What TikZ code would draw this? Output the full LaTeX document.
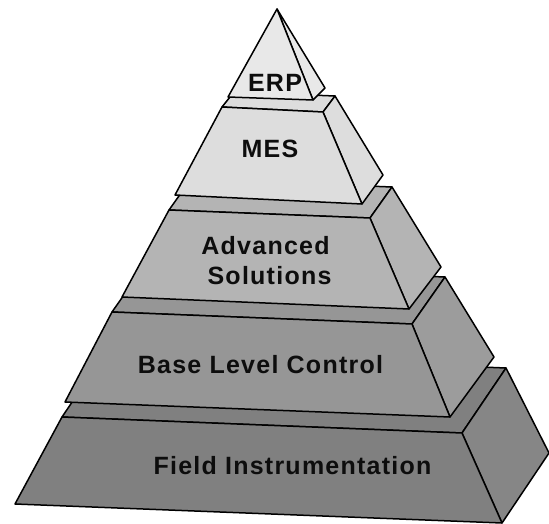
\documentclass[tikz,border=0pt]{standalone}
\usepackage{fontspec}
\setmainfont{Liberation Sans}
\newfontfamily\labfont[LetterSpace=5]{Liberation Sans Bold}
\begin{document}
\begin{tikzpicture}[x=1pt,y=-1pt,
  face/.style={draw=black,line width=1.5pt,line join=round},
  lab/.style={font=\labfont\fontsize{25}{27}\selectfont,anchor=base,inner sep=0pt,text=black!95}]
\useasboundingbox (0,0) rectangle (549,524);
\definecolor{cerp}{gray}{0.91}
\definecolor{cmes}{gray}{0.865}
\definecolor{cadv}{gray}{0.705}
\definecolor{cbase}{gray}{0.59}
\definecolor{cfield}{gray}{0.50}
% Field Instrumentation
\filldraw[face,fill=cfield] (62,417) -- (462,433) -- (506,368) -- (106,352) -- cycle;
\filldraw[face,fill=cfield!95!white] (462,433) -- (506,368) -- (549,453) -- (502,523) -- cycle;
\filldraw[face,fill=cfield] (62,417) -- (462,433) -- (502,523) -- (15,504) -- cycle;
% Base Level Control
\filldraw[face,fill=cbase] (112,312) -- (412,324) -- (445,277) -- (145,265) -- cycle;
\filldraw[face,fill=cbase!95!white] (412,324) -- (445,277) -- (494,357) -- (450,417) -- cycle;
\filldraw[face,fill=cbase] (112,312) -- (412,324) -- (450,417) -- (65,402) -- cycle;
% Advanced Solutions
\filldraw[face,fill=cadv] (169,210) -- (370,218) -- (392,187) -- (191,179) -- cycle;
\filldraw[face,fill=cadv] (370,218) -- (392,187) -- (441,267) -- (409,309) -- cycle;
\filldraw[face,fill=cadv] (169,210) -- (370,218) -- (409,309) -- (122,297) -- cycle;
% MES
\filldraw[face,fill=cmes] (222,107) -- (323,112) -- (335,96) -- (234,92) -- cycle;
\filldraw[face,fill=cmes] (323,112) -- (335,96) -- (383,175) -- (362,204) -- cycle;
\filldraw[face,fill=cmes] (222,107) -- (323,112) -- (362,204) -- (175,195) -- cycle;
% ERP
\filldraw[face,fill=cerp] (277,9) -- (313,100) -- (325,88) -- cycle;
\filldraw[face,fill=cerp] (277,9) -- (228,97) -- (313,100) -- cycle;
% labels
\node[lab] (erp) at (275,91.5) {ERP};
\node[lab] (mes) at (270,157.5) {MES};
\node[lab] (adv1) at (265.5,254) {Advanced};
\node[lab] (adv2) at (269.5,284.5) {Solutions};
\node[lab] (base) at (260.5,373) {Base Level Control};
\node[lab] (field) at (292.5,474.5) {Field Instrumentation};
\end{tikzpicture}
\end{document}
